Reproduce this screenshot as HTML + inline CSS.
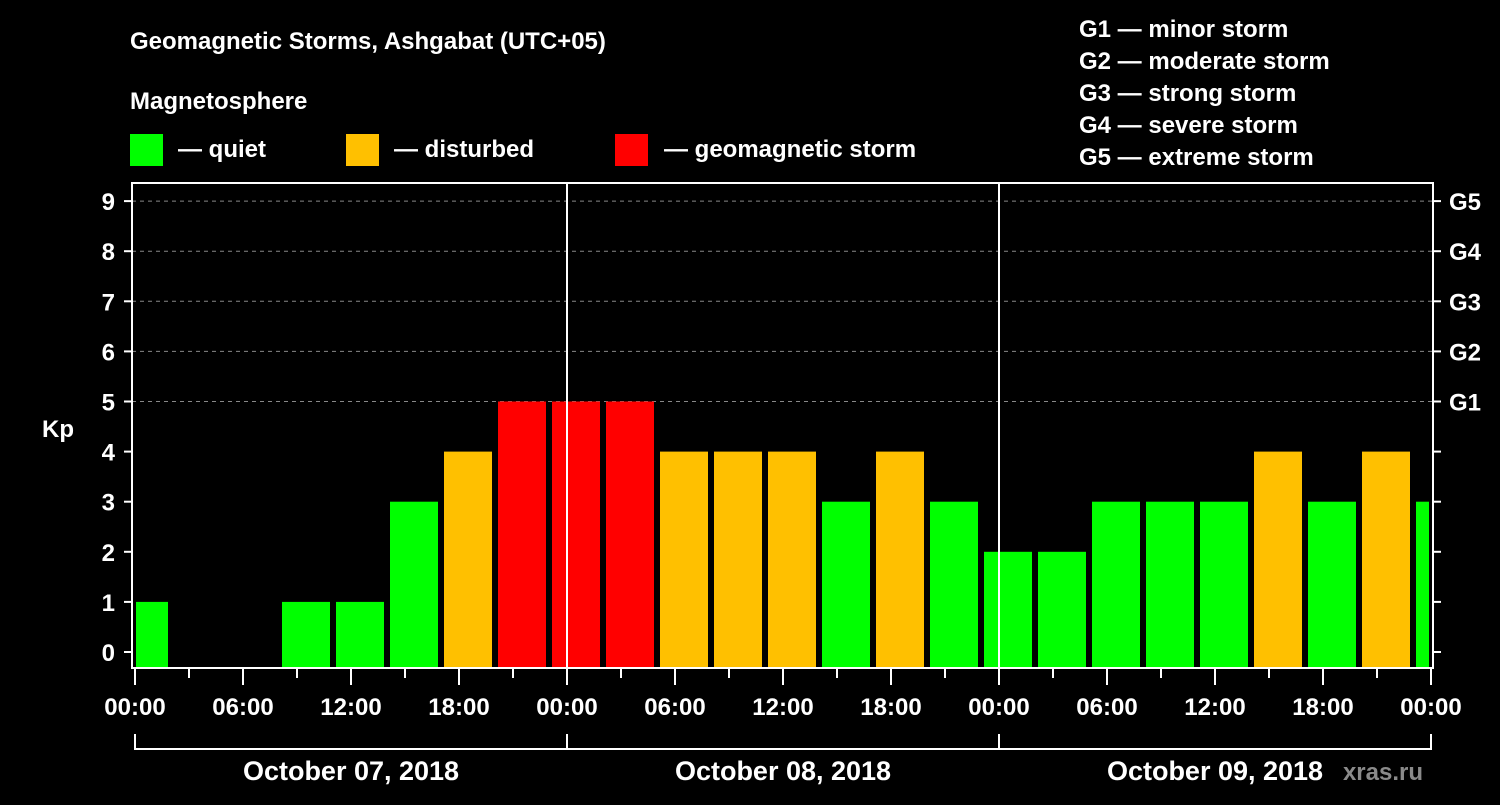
<!DOCTYPE html>
<html><head><meta charset="utf-8"><style>
body{margin:0;background:#000;width:1500px;height:800px;overflow:hidden}
svg text{font-family:"Liberation Sans",sans-serif;font-weight:bold;fill:#fff}
</style></head><body>
<svg id="c" width="1500" height="800">
<rect width="1500" height="800" fill="#000"/>
<text x="130" y="49" font-size="24">Geomagnetic Storms, Ashgabat (UTC+05)</text>
<text x="130" y="109" font-size="24">Magnetosphere</text>
<rect x="130" y="134" width="33" height="32" fill="#00ff00"/>
<text x="178" y="157" font-size="24">— quiet</text>
<rect x="346" y="134" width="33" height="32" fill="#ffc000"/>
<text x="394" y="157" font-size="24">— disturbed</text>
<rect x="615" y="134" width="33" height="32" fill="#ff0000"/>
<text x="664" y="157" font-size="24">— geomagnetic storm</text>
<g font-size="24">
<text x="1079" y="37">G1 — minor storm</text>
<text x="1079" y="69">G2 — moderate storm</text>
<text x="1079" y="101">G3 — strong storm</text>
<text x="1079" y="133">G4 — severe storm</text>
<text x="1079" y="165">G5 — extreme storm</text>
</g>
<text x="42" y="437" font-size="24">Kp</text>
<text x="1423" y="780" font-size="24" text-anchor="end" fill="#888" style="fill:#8a8a8a">xras.ru</text>
<g id="plot"></g>
</svg>
<script>
const kpValues=[1,0,0,1,1,3,4,5, 5,5,4,4,4,3,4,3, 2,2,3,3,3,4,3,4, 3];
const slotStartHours=[-1,2,5,8,11,14,17,20,23,26,29,32,35,38,41,44,47,50,53,56,59,62,65,68,71];
const xTickLabels=["00:00","06:00","12:00","18:00","00:00","06:00","12:00","18:00","00:00","06:00","12:00","18:00","00:00"];
const dateLabels=["October 07, 2018","October 08, 2018","October 09, 2018"];
const gLabels=["G1","G2","G3","G4","G5"];
const NS="http://www.w3.org/2000/svg";
const X0=135,PXH=18,L=132,R=1433,T=183,B=668;
const x=h=>X0+h*PXH;
const y=v=>652-v*50.1;
const g=document.getElementById('plot');
function mk(t,a){const e=document.createElementNS(NS,t);for(const k in a)e.setAttribute(k,a[k]);g.appendChild(e);return e;}
function color(v){return v>=5?'#ff0000':v>=4?'#ffc000':'#00ff00';}
for(let v=5;v<=9;v++){const l=mk('line',{x1:L,x2:R,y1:y(v),y2:y(v),stroke:'#888','stroke-dasharray':'4,4','stroke-width':1});

}
kpValues.forEach((v,i)=>{if(v<=0)return;
let a=Math.max(x(slotStartHours[i])+3,x(0)+1),b=Math.min(x(slotStartHours[i]+3)-3,x(72)-2);
const r=mk('rect',{x:a,y:y(v),width:b-a,height:B-y(v),fill:color(v)});

});
[24,48].forEach(h=>{const l=mk('line',{x1:x(h),x2:x(h),y1:T,y2:B,stroke:'#fff','stroke-width':2});

});
const fr=mk('rect',{x:L,y:T,width:R-L,height:B-T,fill:'none',stroke:'#fff','stroke-width':2});


for(let v=0;v<=9;v++){
const t=mk('line',{x1:124,x2:L,y1:y(v),y2:y(v),stroke:'#fff','stroke-width':2});


const t2=mk('line',{x1:R,x2:1441,y1:y(v),y2:y(v),stroke:'#fff','stroke-width':2});


const tx=mk('text',{x:115,y:y(v)+9,'font-size':24,'text-anchor':'end'});tx.textContent=v;

}
gLabels.forEach((s,i)=>{const tx=mk('text',{x:1449,y:y(5+i)+9,'font-size':24});tx.textContent=s;

});
for(let h=0;h<=72;h+=3){const major=h%6==0;
const t=mk('line',{x1:x(h),x2:x(h),y1:B,y2:major?685:678,stroke:'#fff','stroke-width':2});

}
xTickLabels.forEach((s,i)=>{const tx=mk('text',{x:x(i*6),y:715,'font-size':24,'text-anchor':'middle'});tx.textContent=s;

});
const br=mk('line',{x1:x(0),x2:x(72),y1:749,y2:749,stroke:'#fff','stroke-width':2});


[0,24,48,72].forEach(h=>{const t=mk('line',{x1:x(h),x2:x(h),y1:734,y2:750,stroke:'#fff','stroke-width':2});

});
dateLabels.forEach((s,i)=>{const tx=mk('text',{x:x(i*24+12),y:780,'font-size':27,'text-anchor':'middle'});tx.textContent=s;

});
</script>
</body></html>
